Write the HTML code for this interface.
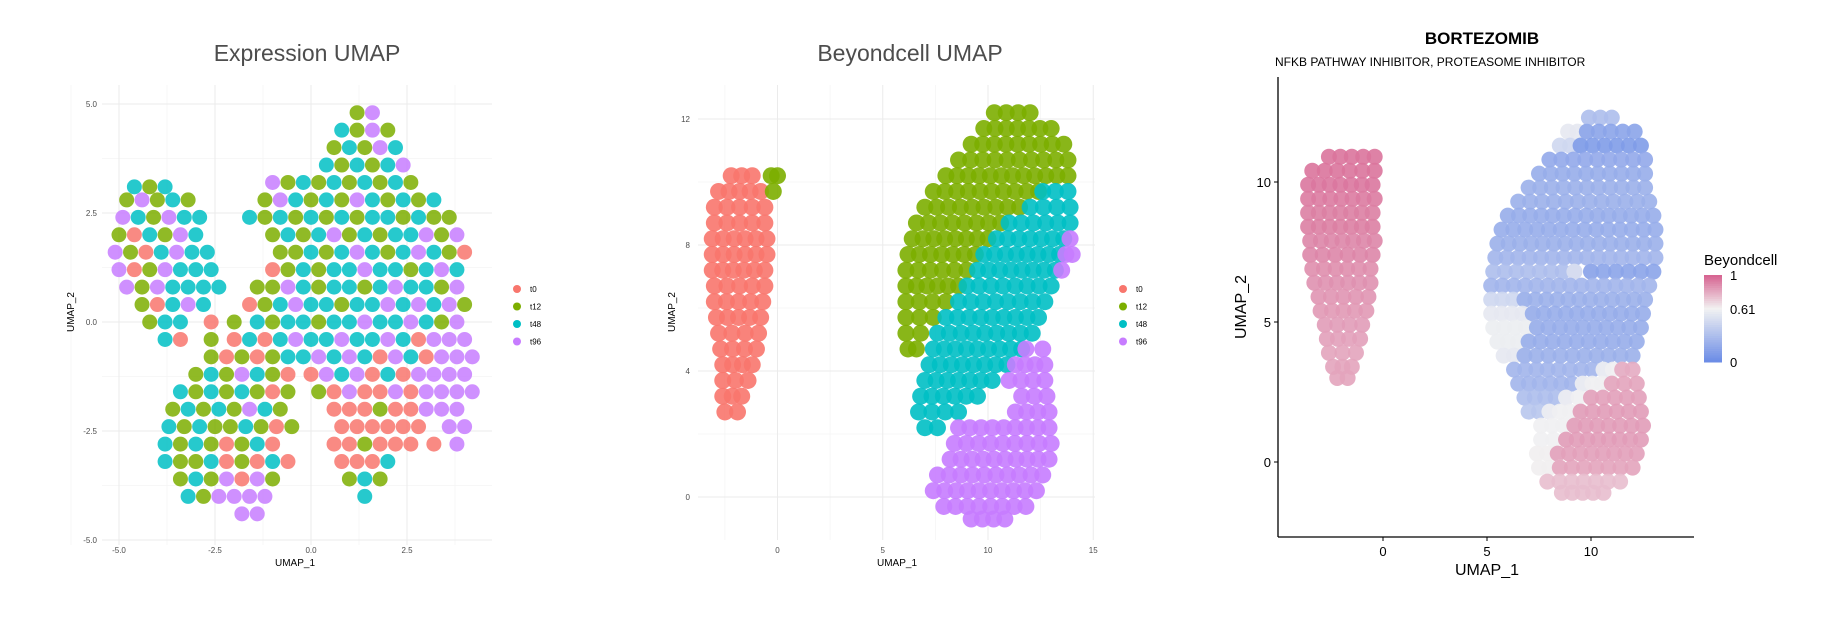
<!DOCTYPE html>
<html><head><meta charset="utf-8">
<style>
html,body{margin:0;padding:0;background:#fff;}
svg{display:block;font-family:"Liberation Sans",sans-serif;}
</style></head>
<body>
<svg id="fig" width="1829" height="628" viewBox="0 0 1829 628" xmlns="http://www.w3.org/2000/svg">
  <g id="p1"></g>
  <g id="p2"></g>
  <g id="p3"></g>
  <text x="307" y="61" text-anchor="middle" font-size="23" fill="#4d4d4d">Expression UMAP</text>
  <text x="910" y="61" text-anchor="middle" font-size="23" fill="#4d4d4d">Beyondcell UMAP</text>
  <text x="1482" y="44" text-anchor="middle" font-size="17" font-weight="bold" fill="#000">BORTEZOMIB</text>
  <text x="1275" y="66" font-size="12" fill="#000">NFKB PATHWAY INHIBITOR, PROTEASOME INHIBITOR</text>
</svg>
<script>
const NS = "http://www.w3.org/2000/svg";
// ---- shared data ----
const categories = ["t0", "t12", "t48", "t96"];
const groupColors = ["#F8766D", "#7CAE00", "#00BFC4", "#C77CFF"];
// ---- plot 1 ticks ----
const exprXTicks = [-5, -2.5, 0, 2.5];
const exprXTickLabels = ["-5.0", "-2.5", "0.0", "2.5"];
const exprYTicks = [5, 2.5, 0, -2.5, -5];
const exprYTickLabels = ["5.0", "2.5", "0.0", "-2.5", "-5.0"];
// ---- plot 1 points: [x, y, groupIndex] (r=t0,g=t12,c=t48,p=t96) ----
const exprPointRows = [
"4.8:1.2g,1.6p",
"4.4:0.8c,1.2g,1.6p,2.0g",
"4.0:0.6g,1.0c,1.4g,1.8p,2.2c",
"3.6:0.4c,0.8g,1.2c,1.6g,2.0c,2.4p",
"3.2:-1.0p,-0.6g,-0.2c,0.2g,0.6c,1.0g,1.4c,1.8g,2.2c,2.6g",
"3.1:-4.6c,-4.2g,-3.8c",
"2.8:-4.8g,-4.4p,-4.0g,-3.6c,-3.2g,-1.2g,-0.8p,-0.4c,0.0g,0.4c,0.8g,1.2p,1.6c,2.0g,2.4c,2.8g,3.2c",
"2.4:-4.9p,-4.5c,-4.1g,-3.7p,-3.3c,-2.9c,-1.6c,-1.2g,-0.8c,-0.4g,0c,0.4g,0.8c,1.2g,1.6c,2.0c,2.4g,2.8c,3.2g,3.6g",
"2.0:-5.0g,-4.6r,-4.2c,-3.8g,-3.4p,-3.0c,-1.0g,-0.6c,-0.2g,0.2c,0.6p,1.0g,1.4c,1.8g,2.2c,2.6c,3.0p,3.4g,3.8p",
"1.6:-5.1p,-4.7g,-4.3r,-3.9c,-3.5p,-3.1c,-2.7c,-0.8g,-0.4g,0c,0.4g,0.8c,1.2p,1.6c,2.0g,2.4c,2.8p,3.2c,3.6g,4.0r",
"1.2:-5.0p,-4.6r,-4.2g,-3.8p,-3.4c,-3.0c,-2.6c,-1.0r,-0.6g,-0.2c,0.2g,0.6c,1.0c,1.4p,1.8c,2.2c,2.6g,3.0c,3.4p,3.8c",
"0.8:-4.8p,-4.4g,-4.0p,-3.6c,-3.2c,-2.8c,-2.4c,-1.4g,-1.0g,-0.6p,-0.2c,0.2g,0.6c,1.0c,1.4g,1.8c,2.2p,2.6c,3.0c,3.4g,3.8p",
"0.4:-4.4g,-4.0r,-3.6c,-3.2p,-2.8c,-1.6r,-1.2g,-0.8c,-0.4p,0c,0.4c,0.8g,1.2c,1.6c,2.0p,2.4c,2.8p,3.2c,3.6p,4.0g",
"0.0:-4.2g,-3.8c,-3.4c,-2.6r,-2.0g,-1.4c,-1.0g,-0.6c,-0.2c,0.2g,0.6c,1.0c,1.4p,1.8c,2.2c,2.6p,3.0c,3.4g,3.8p",
"-0.4:-3.8c,-3.4r,-2.6g,-2.0r,-1.6c,-1.2r,-0.8c,-0.4p,0c,0.4c,0.8p,1.2c,1.6c,2.0p,2.4c,2.8r,3.2p,3.6p,4.0p",
"-0.8:-2.6g,-2.2r,-1.8g,-1.4r,-1.0g,-0.6c,-0.2c,0.2p,0.6c,1.0p,1.4c,1.8r,2.2p,2.6c,3.0r,3.4p,3.8p,4.2p",
"-1.2:-3.0g,-2.6c,-2.2g,-1.8p,-1.4c,-1.0g,-0.6r,0.0r,0.4p,0.8c,1.2p,1.6r,2.0c,2.4r,2.8p,3.2p,3.6p,4.0p",
"-1.6:-3.4c,-3.0g,-2.6c,-2.2g,-1.8c,-1.4g,-1.0r,-0.6g,0.2g,0.6r,1.0p,1.4r,1.8r,2.2p,2.6r,3.0p,3.4p,3.8p,4.2p",
"-2.0:-3.6g,-3.2c,-2.8g,-2.4c,-2.0g,-1.6p,-1.2c,-0.8g,0.6r,1.0r,1.4r,1.8g,2.2r,2.6r,3.0p,3.4p,3.8p",
"-2.4:-3.7c,-3.3g,-2.9c,-2.5g,-2.1g,-1.7c,-1.3g,-0.9r,-0.5g,0.8r,1.2r,1.6r,2.0r,2.4r,2.8r,3.6p,4.0p",
"-2.8:-3.8c,-3.4g,-3.0c,-2.6g,-2.2r,-1.8g,-1.4c,-1.0r,0.6r,1.0r,1.4g,1.8r,2.2r,2.6r,3.2r,3.8p",
"-3.2:-3.8c,-3.4g,-3.0g,-2.6c,-2.2r,-1.8g,-1.4r,-1.0c,-0.6r,0.8r,1.2r,1.6r,2.0c",
"-3.6:-3.4g,-3.0c,-2.6g,-2.2p,-1.8r,-1.4p,-1.0g,1.0g,1.4c,1.8g",
"-4.0:-3.2c,-2.8g,-2.4p,-2.0p,-1.6p,-1.2p,1.4c",
"-4.4:-1.8p,-1.4p"
];
// ---- plot 2 ticks ----
const bcXTicks = [0, 5, 10, 15];
const bcYTicks = [0, 4, 8, 12];
// ---- plot 2 segments: [y, xStart, xEnd, groupIndex] ----
const bcSegments = [
[10.2,-2.2,-1.2,0],[10.2,-0.3,0.0,1],[9.7,-2.8,-0.8,0],[9.7,-0.3,-0.1,1],[9.2,-3.0,-0.6,0],[8.7,-3.0,-0.6,0],
[8.2,-3.1,-0.5,0],[7.7,-3.1,-0.5,0],[7.2,-3.1,-0.6,0],[6.7,-3.0,-0.6,0],[6.2,-3.0,-0.7,0],[5.7,-2.9,-0.8,0],
[5.2,-2.8,-0.9,0],[4.7,-2.7,-1.0,0],[4.2,-2.6,-1.2,0],[3.7,-2.6,-1.4,0],[3.2,-2.6,-1.7,0],[2.7,-2.5,-1.9,0],
[12.2,10.3,12.0,1],[11.7,9.8,13.0,1],[11.2,9.2,13.6,1],[10.7,8.6,13.8,1],[10.2,8.0,13.8,1],
[9.7,7.4,12.4,1],[9.7,12.6,13.8,2],[9.2,7.0,11.5,1],[9.2,12.0,13.9,2],[8.7,6.6,10.6,1],[8.7,11.0,13.9,2],
[8.2,6.4,10.0,1],[8.2,10.4,13.6,2],[8.2,13.8,14.0,3],[7.7,6.2,9.4,1],[7.7,9.8,13.4,2],[7.7,13.7,14.0,3],
[7.2,6.1,9.0,1],[7.2,9.5,13.2,2],[7.2,13.4,13.6,3],[6.7,6.1,8.6,1],[6.7,9.0,13.0,2],[6.2,6.1,8.0,1],[6.2,8.6,12.7,2],
[5.7,6.1,7.4,1],[5.7,8.0,12.4,2],[5.2,6.1,6.8,1],[5.2,7.6,12.1,2],[4.7,6.2,6.6,1],[4.7,7.4,11.6,2],[4.7,11.8,12.6,3],
[4.2,7.2,10.9,2],[4.2,11.3,12.7,3],[3.7,7.0,10.2,2],[3.7,11.0,12.7,3],[3.2,6.8,9.5,2],[3.2,11.6,12.8,3],
[2.7,6.7,8.6,2],[2.7,11.3,12.9,3],[2.2,7.0,7.6,2],[2.2,8.6,12.9,3],[1.7,8.4,13.0,3],[1.2,8.2,12.9,3],
[0.7,7.6,12.6,3],[0.2,7.4,12.3,3],[-0.3,7.9,11.8,3],[-0.7,9.2,10.8,3]
];
// ---- plot 3 ticks ----
const bzXTicks = [0, 5, 10];
const bzYTicks = [0, 5, 10];
const bzLegendValues = [1, 0.61, 0];
// ---- plot 3 segments: [y, xStart, xEnd, beyondcellScore] ----
const bzSegments = [
[10.9,-2.6,-0.4,0.95],[10.4,-3.4,-0.4,0.95],[9.9,-3.6,-0.5,0.94],[9.4,-3.6,-0.4,0.93],[8.9,-3.6,-0.5,0.92],
[8.4,-3.6,-0.5,0.92],[7.9,-3.5,-0.4,0.9],[7.4,-3.5,-0.5,0.9],[6.9,-3.4,-0.6,0.88],[6.4,-3.3,-0.6,0.87],
[5.9,-3.1,-0.7,0.86],[5.4,-3.0,-0.8,0.85],[4.9,-2.8,-1.0,0.84],[4.4,-2.7,-1.1,0.83],[3.9,-2.6,-1.3,0.82],
[3.4,-2.4,-1.5,0.82],[3.0,-2.2,-1.7,0.82],
[12.3,9.9,11.0,0.3],[11.8,8.9,9.8,0.55],[11.8,9.8,12.1,0.15],[11.3,8.5,9.5,0.45],[11.3,9.5,12.4,0.1],
[10.8,8.0,12.6,0.18],[10.3,7.5,12.6,0.2],[9.8,7.0,12.6,0.22],[9.3,6.5,12.8,0.22],[8.8,6.0,13.0,0.2],
[8.3,5.7,13.1,0.2],[7.8,5.5,13.1,0.22],[7.3,5.4,13.1,0.25],[6.8,5.3,9.2,0.3],[6.8,9.2,10.0,0.5],[6.8,10.0,13.0,0.15],
[6.3,5.2,12.8,0.25],[5.8,5.2,6.8,0.45],[5.8,6.8,12.6,0.22],[5.3,5.2,7.2,0.55],[5.3,7.2,12.5,0.2],
[4.8,5.3,7.4,0.58],[4.8,7.4,12.4,0.2],[4.3,5.5,7.0,0.58],[4.3,7.0,12.2,0.2],[3.8,5.8,6.8,0.55],[3.8,6.8,12.0,0.22],
[3.3,6.3,10.6,0.25],[3.3,10.6,11.5,0.6],[3.3,11.5,12.0,0.8],[2.8,6.5,9.6,0.25],[2.8,9.6,11.0,0.6],[2.8,11.0,12.2,0.82],
[2.3,6.8,8.8,0.3],[2.3,8.8,10.0,0.6],[2.3,10.0,12.3,0.83],[1.8,7.0,8.0,0.35],[1.8,8.0,9.5,0.6],[1.8,9.5,12.4,0.84],
[1.3,7.6,9.2,0.6],[1.3,9.2,12.5,0.84],[0.8,7.6,8.8,0.6],[0.8,8.8,12.4,0.84],[0.3,7.4,8.4,0.62],[0.3,8.4,12.2,0.83],
[-0.2,7.5,8.5,0.62],[-0.2,8.5,12.0,0.82],[-0.7,7.9,11.4,0.75],[-1.1,8.6,10.6,0.75]
];

function el(tag, attrs, parent) {
  const e = document.createElementNS(NS, tag);
  for (const k in attrs) e.setAttribute(k, attrs[k]);
  parent.appendChild(e);
  return e;
}
function lin(d0, d1, r0, r1) { return v => r0 + (v - d0) * (r1 - r0) / (d1 - d0); }

// ================= Plot 1 =================
(function () {
  const g = document.getElementById("p1");
  const sx = lin(-5, 2.5, 119, 407), sy = lin(5, -5, 104, 540);
  const left = 102, right = 492, top = 85, bottom = 545;
  const minorsX = exprXTicks.map(t => t + 1.25).concat([exprXTicks[0] - 1.25]);
  const minorsY = exprYTicks.slice(1).map(t => t + 1.25);
  minorsX.forEach(t => { const l = el("line", {x1: sx(t), x2: sx(t), y1: top, y2: bottom, stroke: "#f5f5f5", "stroke-width": 0.8}, g);
      });
  minorsY.forEach(t => { const l = el("line", {x1: left, x2: right, y1: sy(t), y2: sy(t), stroke: "#f5f5f5", "stroke-width": 0.8}, g);
      });
  exprXTicks.forEach((t, i) => {
    const l = el("line", {x1: sx(t), x2: sx(t), y1: top, y2: bottom, stroke: "#ebebeb", "stroke-width": 1}, g);
     
    const tx = el("text", {x: sx(t), y: 553, "text-anchor": "middle", "font-size": 8, fill: "#4d4d4d"}, g);
    tx.textContent = exprXTickLabels[i];
     
  });
  exprYTicks.forEach((t, i) => {
    const l = el("line", {x1: left, x2: right, y1: sy(t), y2: sy(t), stroke: "#ebebeb", "stroke-width": 1}, g);
     
    const tx = el("text", {x: 97, y: sy(t) + 3, "text-anchor": "end", "font-size": 8, fill: "#4d4d4d"}, g);
    tx.textContent = exprYTickLabels[i];
     
  });
  const codes = {r: 0, g: 1, c: 2, p: 3};
  exprPointRows.forEach(row => {
    const [ys, xs] = row.split(":");
    const y = parseFloat(ys);
    xs.split(",").forEach(tok => {
      const gi = codes[tok.slice(-1)], x = parseFloat(tok.slice(0, -1));
      const c = el("circle", {cx: sx(x), cy: sy(y), r: 7.5, fill: groupColors[gi], "fill-opacity": 0.85}, g);
      
      
    });
  });
  const xl = el("text", {x: 295, y: 566, "text-anchor": "middle", "font-size": 10, fill: "#000"}, g);
  xl.textContent = "UMAP_1";  
  const yl = el("text", {x: 74, y: 312, "text-anchor": "middle", "font-size": 10, fill: "#000", transform: "rotate(-90 74 312)"}, g);
  yl.textContent = "UMAP_2";  
  categories.forEach((c, i) => {
    const y = 289 + i * 17.5;
    const d = el("circle", {cx: 517, cy: y, r: 4, fill: groupColors[i]}, g);
     
    const t = el("text", {x: 530, y: y + 3, "font-size": 8, fill: "#000"}, g);
    t.textContent = c;  
  });
})();

// ================= Plot 2 =================
(function () {
  const g = document.getElementById("p2");
  const sx = lin(0, 10, 777.5, 988), sy = lin(0, 12, 497, 119);
  const left = 698, right = 1095, top = 85, bottom = 540;
  [-2.5, 2.5, 7.5, 12.5].forEach(t => { const l = el("line", {x1: sx(t), x2: sx(t), y1: top, y2: bottom, stroke: "#f5f5f5", "stroke-width": 0.8}, g);
      });
  [2, 6, 10].forEach(t => { const l = el("line", {x1: left, x2: right, y1: sy(t), y2: sy(t), stroke: "#f5f5f5", "stroke-width": 0.8}, g);
      });
  bcXTicks.forEach(t => {
    const l = el("line", {x1: sx(t), x2: sx(t), y1: top, y2: bottom, stroke: "#ebebeb", "stroke-width": 1}, g);
     
    const tx = el("text", {x: sx(t), y: 553, "text-anchor": "middle", "font-size": 8, fill: "#4d4d4d"}, g);
    tx.textContent = String(t);  
  });
  bcYTicks.forEach(t => {
    const l = el("line", {x1: left, x2: right, y1: sy(t), y2: sy(t), stroke: "#ebebeb", "stroke-width": 1}, g);
     
    const tx = el("text", {x: 690, y: sy(t) + 3, "text-anchor": "end", "font-size": 8, fill: "#4d4d4d"}, g);
    tx.textContent = String(t);  
  });
  const step = 0.55;
  bcSegments.forEach(s => {
    const [y, x0, x1, gi] = s;
    const n = Math.max(1, Math.round((x1 - x0) / step) + 1);
    for (let k = 0; k < n; k++) {
      const x = n === 1 ? (x0 + x1) / 2 : x0 + (x1 - x0) * k / (n - 1);
      const c = el("circle", {cx: sx(x), cy: sy(y), r: 8.5, fill: groupColors[gi], "fill-opacity": 0.9}, g);
      
      
    }
  });
  const xl = el("text", {x: 897, y: 566, "text-anchor": "middle", "font-size": 10, fill: "#000"}, g);
  xl.textContent = "UMAP_1";  
  const yl = el("text", {x: 675, y: 312, "text-anchor": "middle", "font-size": 10, fill: "#000", transform: "rotate(-90 675 312)"}, g);
  yl.textContent = "UMAP_2";  
  categories.forEach((c, i) => {
    const y = 289 + i * 17.5;
    const d = el("circle", {cx: 1123, cy: y, r: 4, fill: groupColors[i]}, g);
     
    const t = el("text", {x: 1136, y: y + 3, "font-size": 8, fill: "#000"}, g);
    t.textContent = c;  
  });
})();

// ================= Plot 3 =================
(function () {
  const g = document.getElementById("p3");
  const sx = lin(0, 10, 1383, 1591), sy = lin(0, 10, 462, 182);
  const axL = 1278, axB = 537;
  function mix(a, b, t) {
    return "rgb(" + [0, 1, 2].map(i => Math.round(a[i] + (b[i] - a[i]) * t)).join(",") + ")";
  }
  const cLow = [106, 139, 230], cMid = [242, 242, 242], cHigh = [214, 97, 143];
  function scoreColor(v) {
    return v <= 0.61 ? mix(cLow, cMid, v / 0.61) : mix(cMid, cHigh, (v - 0.61) / 0.39);
  }
  const step = 0.55;
  bzSegments.forEach(s => {
    const [y, x0, x1, v] = s;
    const n = Math.max(1, Math.round((x1 - x0) / step) + 1);
    for (let k = 0; k < n; k++) {
      const x = n === 1 ? (x0 + x1) / 2 : x0 + (x1 - x0) * k / (n - 1);
      const c = el("circle", {cx: sx(x), cy: sy(y), r: 8, fill: scoreColor(v), "fill-opacity": 0.9}, g);
      
      
    }
  });
  const ya = el("line", {x1: axL, x2: axL, y1: 77, y2: axB, stroke: "#000", "stroke-width": 1.3}, g);
   
  const xa = el("line", {x1: axL, x2: 1694, y1: axB, y2: axB, stroke: "#000", "stroke-width": 1.3}, g);
   
  bzXTicks.forEach(t => {
    const l = el("line", {x1: sx(t), x2: sx(t), y1: axB, y2: axB + 4, stroke: "#000", "stroke-width": 1}, g);
     
    const tx = el("text", {x: sx(t), y: 556, "text-anchor": "middle", "font-size": 13, fill: "#000"}, g);
    tx.textContent = String(t);  
  });
  bzYTicks.forEach(t => {
    const l = el("line", {x1: axL - 4, x2: axL, y1: sy(t), y2: sy(t), stroke: "#000", "stroke-width": 1}, g);
     
    const tx = el("text", {x: axL - 7, y: sy(t) + 5, "text-anchor": "end", "font-size": 13, fill: "#000"}, g);
    tx.textContent = String(t);  
  });
  const xl = el("text", {x: 1487, y: 575, "text-anchor": "middle", "font-size": 16, fill: "#000"}, g);
  xl.textContent = "UMAP_1";  
  const yl = el("text", {x: 1246, y: 307, "text-anchor": "middle", "font-size": 16, fill: "#000", transform: "rotate(-90 1246 307)"}, g);
  yl.textContent = "UMAP_2";  
  const lt = el("text", {x: 1704, y: 265, "font-size": 15, fill: "#000"}, g);
  lt.textContent = "Beyondcell";  
  const barTop = 275, barBot = 362;
  const by = lin(1, 0, barTop, barBot);
  const nSteps = 40;
  for (let k = 0; k < nSteps; k++) {
    const v1 = 1 - k / nSteps, v2 = 1 - (k + 1) / nSteps;
    const r = el("rect", {x: 1704, y: by(v1), width: 18, height: by(v2) - by(v1) + 0.5, fill: scoreColor((v1 + v2) / 2)}, g);
     
  }
  bzLegendValues.forEach(v => {
    const t = el("text", {x: 1730, y: by(v) + 5, "font-size": 13, fill: "#000"}, g);
    t.textContent = String(v);  
  });
})();
</script>
</body></html>
